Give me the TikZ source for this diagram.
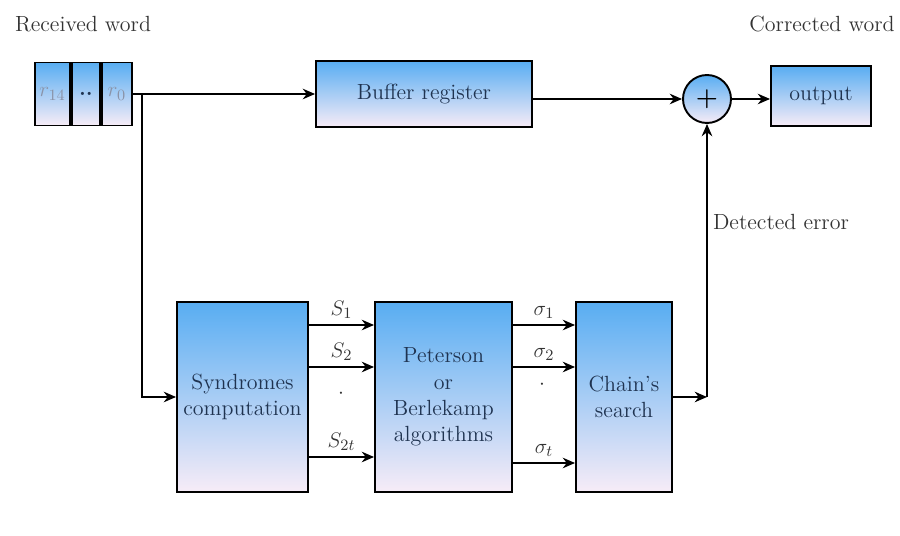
\documentclass[tikz,border=0pt]{standalone}
\usepackage{tikz}
\usetikzlibrary{arrows.meta, positioning, shapes.geometric}
\definecolor{boxtop}{HTML}{58ADF2}
\definecolor{boxbot}{HTML}{F7ECF7}
\definecolor{boxink}{HTML}{1F3350}
\definecolor{labelink}{HTML}{333333}
\definecolor{regink}{HTML}{8A93A8}

\begin{document}
\begin{tikzpicture}[x=0.02cm, y=-0.02cm, font=\fontsize{12.5}{15}\selectfont,
  blk/.style={draw, line width=1.1pt, top color=boxtop, bottom color=boxbot, text=boxink, align=center, inner sep=0pt},
  reg/.style={blk, minimum height=1.26cm, text=regink},
  wire/.style={line width=1pt, -{Stealth[length=7pt,width=6pt]}},
  lbl/.style={text=labelink}]
  \useasboundingbox (0,0) rectangle (900,536);
  % input register and top row
  \node[reg, minimum width=0.7cm] (r14) at (52.5,94) {$r_{14}$};
  \node[reg, minimum width=0.56cm, right=0pt of r14, text=boxink] (rdots) {\textbf{..}};
  \node[reg, minimum width=0.6cm, right=0pt of rdots] (r0) {$r_0$};
  \node[blk, minimum width=4.32cm, minimum height=1.32cm] (buf) at (424,94) {Buffer register};
  \node[blk, circle, minimum size=0.96cm, text=black] (sum) at (707,99) {\Large\textbf{+}};
  \node[blk, minimum width=2cm, minimum height=1.2cm] (out) at (821,96) {output};
  \node[lbl] (rxlbl) at (83,24) {Received word};
  \node[lbl] (cwlbl) at (822,24) {Corrected word};
  \node[lbl] (deterr) at (781,222) {Detected error};
  % decoder row
  \node[blk, minimum width=2.62cm, minimum height=3.8cm] (synd) at (242.5,397) {Syndromes\\computation};
  \node[blk, minimum width=2.74cm, minimum height=3.8cm] (pet) at (443.5,397) {Peterson\\or\\Berlekamp\\algorithms};
  \node[blk, minimum width=1.92cm, minimum height=3.8cm] (chain) at (624,397) {Chain's\\search};
  \coordinate (split) at (142,94);
  \coordinate (turn) at (707,397);
  \draw[wire] (r0.east) -- (buf.west);
  \draw[wire] (buf.east |- sum.west) -- (sum.west);
  \draw[wire] (sum.east) -- (out.west |- sum.east);
  \draw[wire] (split) |- (synd.west);
  \draw[wire] (chain.east) -- (turn);
  \draw[wire] (turn) -- (sum.south);
  \foreach \y/\t in {325/$S_1$, 367/$S_2$, 457/$S_{2t}$}
    \draw[wire] (synd.east |- 0,\y) -- node[above, lbl] {\t} (pet.west |- 0,\y);
  \foreach \y/\t in {325/$\sigma_1$, 367/$\sigma_2$, 463/$\sigma_t$}
    \draw[wire] (pet.east |- 0,\y) -- node[above, lbl] {\t} (chain.west |- 0,\y);
  \node[lbl] (sdot) at (341,394) {$\cdot$};
  \node[lbl] (gdot) at (542,385) {$\cdot$};
\end{tikzpicture}
\end{document}
